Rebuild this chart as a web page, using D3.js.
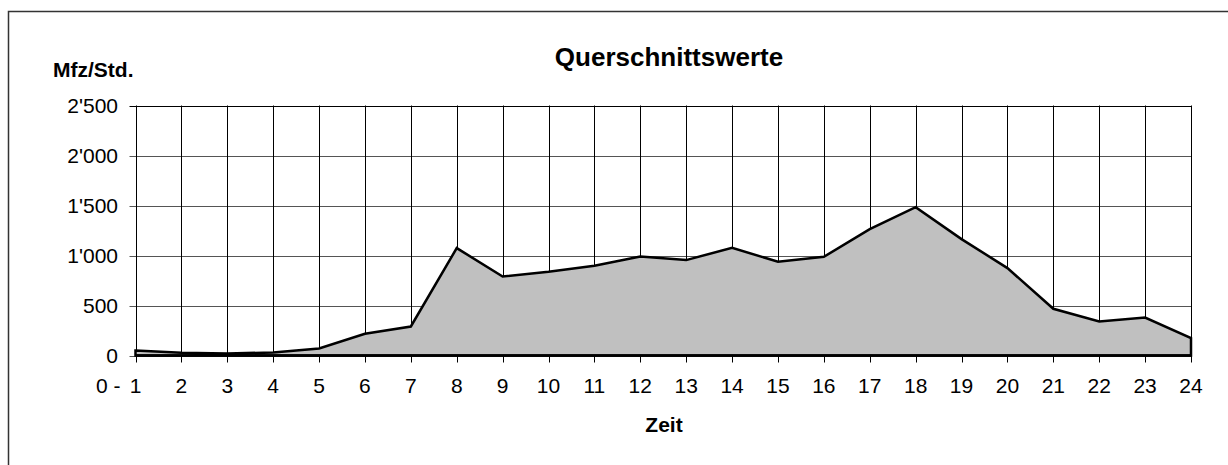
<!DOCTYPE html>
<html>
<head>
<meta charset="utf-8">
<script src="https://cdn.jsdelivr.net/npm/d3@7"></script>
<style>
  body { margin: 0; background: #fff; }
  text { font-family: "Liberation Sans", Arial, sans-serif; fill: #000; }
</style>
</head>
<body>
<script>
var hours = d3.range(1, 25);
var values = [50, 28, 20, 30, 70, 217, 290, 1074, 790, 837, 897, 990, 954, 1077,
              937, 987, 1264, 1484, 1164, 874, 467, 340, 380, 174];
var yTicks = [0, 500, 1000, 1500, 2000, 2500];

var width = 1228,
    height = 465,
    plotLeft = 135.5,
    plotRight = 1191,
    plotTop = 105.5,
    plotBottom = 355.5;

var x = d3.scaleLinear().domain([1, 24]).range([plotLeft, plotRight]);
var y = d3.scaleLinear().domain([0, 2500]).range([plotBottom, plotTop]);

var fmt = function(d) {
    return d3.format(",")(d).replace(/,/g, "'");
};

var svg = d3.select("body")
        .append("svg")
        .attr("width", width)
        .attr("height", height);

// outer frame (left and top only visible)
svg.append("path")
    .attr("d", "M8.5," + height + "V11.5H" + width)
    .attr("fill", "none")
    .attr("stroke", "#333")
    .attr("stroke-width", 1.5);

// horizontal grid
svg.selectAll(".hgrid")
    .data(yTicks)
    .enter()
    .append("line")
    .attr("x1", plotLeft - 6)
    .attr("x2", plotRight)
    .attr("y1", function(d) { return Math.round(y(d)) + 0.5; })
    .attr("y2", function(d) { return Math.round(y(d)) + 0.5; })
    .attr("stroke", function(d) { return d == 2500 ? "#000" : "#555"; })
    .attr("stroke-width", 1);

// vertical grid
svg.selectAll(".vgrid")
    .data(hours)
    .enter()
    .append("line")
    .attr("x1", function(d) { return Math.round(x(d)) + 0.5; })
    .attr("x2", function(d) { return Math.round(x(d)) + 0.5; })
    .attr("y1", plotTop)
    .attr("y2", plotBottom + 7)
    .attr("stroke", "#000")
    .attr("stroke-width", 1);

// area
var area = d3.area()
    .x(function(d, i) { return x(hours[i]); })
    .y0(y(0))
    .y1(function(d) { return y(d); });

svg.append("path")
    .datum(values)
    .attr("d", area)
    .attr("fill", "#c0c0c0")
    .attr("stroke", "#000")
    .attr("stroke-width", 2.5)
    .attr("stroke-linejoin", "miter");

// x axis line
svg.append("line")
    .attr("x1", plotLeft)
    .attr("x2", plotRight)
    .attr("y1", y(0))
    .attr("y2", y(0))
    .attr("stroke", "#000")
    .attr("stroke-width", 2.5);

// y labels
svg.selectAll(".ylab")
    .data(yTicks)
    .enter()
    .append("text")
    .attr("x", 118)
    .attr("y", function(d) { return y(d) + 7.5; })
    .attr("text-anchor", "end")
    .attr("font-size", "21px")
    .text(fmt);

// x labels
svg.selectAll(".xlab")
    .data(hours)
    .enter()
    .append("text")
    .attr("x", function(d) { return x(d); })
    .attr("y", 393)
    .attr("text-anchor", "middle")
    .attr("font-size", "21px")
    .text(function(d) { return d; });

svg.append("text")
    .attr("x", x(1) - 15)
    .attr("y", 393)
    .attr("text-anchor", "end")
    .attr("font-size", "21px")
    .text("0 -");

// titles
svg.append("text")
    .attr("x", 669)
    .attr("y", 66)
    .attr("text-anchor", "middle")
    .attr("font-size", "26px")
    .attr("font-weight", "bold")
    .text("Querschnittswerte");

svg.append("text")
    .attr("x", 53)
    .attr("y", 77)
    .attr("font-size", "21px")
    .attr("font-weight", "bold")
    .text("Mfz/Std.");

svg.append("text")
    .attr("x", 664)
    .attr("y", 432)
    .attr("text-anchor", "middle")
    .attr("font-size", "21px")
    .attr("font-weight", "bold")
    .text("Zeit");
</script>
</body>
</html>
